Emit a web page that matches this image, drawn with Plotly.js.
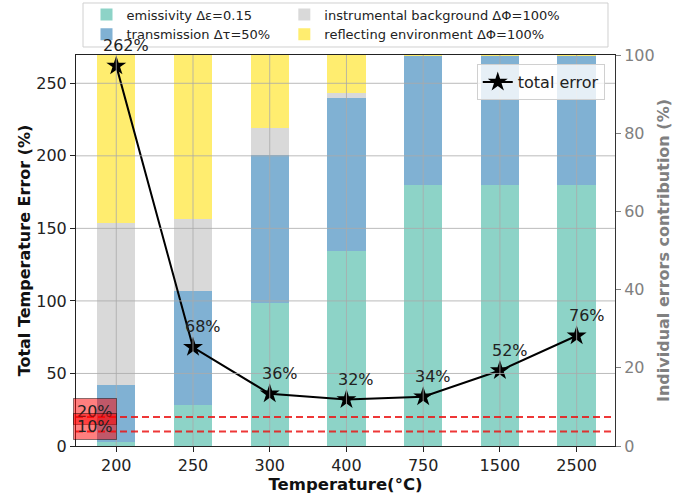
<!DOCTYPE html>
<html>
<head>
<meta charset="utf-8">
<script src="https://cdn.plot.ly/plotly-3.0.1.min.js"></script>
<style>html,body{margin:0;padding:0;background:#fff;}#chart{width:692px;height:495px;}</style>
</head>
<body>
<div id="chart"></div>
<script>
// ---- data ----
const categories = ['200', '250', '300', '400', '750', '1500', '2500'];
const emissivity   = [1.0, 10.5, 36.5, 49.9, 66.8, 66.8, 66.8];
const transmission = [14.6, 29.1, 37.9, 39.2, 32.9, 32.9, 32.9];
const background   = [41.4, 18.5, 6.9, 1.1, 0.0, 0.0, 0.0];
const reflecting   = [43.0, 41.9, 18.7, 9.8, 0.3, 0.3, 0.3];
const totalError   = [262, 68, 36, 32, 34, 52, 76];
const thresholds   = [20, 10];
const leftTicks    = [0, 50, 100, 150, 200, 250];
const rightTicks   = [0, 20, 40, 60, 80, 100];
const seriesNames  = ['emissivity Δε=0.15', 'transmission Δτ=50%', 'instrumental background ΔΦ=100%', 'reflecting environment ΔΦ=100%'];
const seriesColors = ['#8dd3c7', '#80b1d3', '#d9d9d9', '#ffed6f'];
const seriesLegend = ['legend', 'legend', 'legend3', 'legend3'];

const FONT = 'DejaVu Sans, Liberation Sans, sans-serif';
const stacks = [emissivity, transmission, background, reflecting];

const traces = stacks.map((vals, k) => ({
  type: 'bar', x: categories, y: vals, name: seriesNames[k],
  marker: {color: seriesColors[k], line: {width: 0}},
  width: 0.5, xaxis: 'x', yaxis: 'y', legend: seriesLegend[k],
  hoverinfo: 'skip'
}));

traces.push({
  type: 'scatter', mode: 'lines+markers', x: categories, y: totalError, name: 'total error',
  line: {color: '#000', width: 2}, marker: {symbol: 'star', size: 15, color: '#000'},
  xaxis: 'x', yaxis: 'y2', legend: 'legend2'
});

const shapes = [];
// grid drawn above bars (as in the reference)
categories.forEach((c, i) => shapes.push({type: 'line', layer: 'above', xref: 'x', yref: 'paper',
  x0: i, x1: i, y0: 0, y1: 1, line: {color: 'rgba(170,170,170,0.8)', width: 1}}));
leftTicks.slice(1).forEach(v => shapes.push({type: 'line', layer: 'above', xref: 'paper', yref: 'y2',
  x0: 0, x1: 1, y0: v, y1: v, line: {color: 'rgba(170,170,170,0.8)', width: 1}}));
// thresholds
thresholds.forEach(v => shapes.push({type: 'line', layer: 'above', xref: 'paper', yref: 'y2',
  x0: 0, x1: 1, y0: v, y1: v, line: {color: 'rgba(235,20,20,0.85)', width: 2, dash: '7px,4px'}}));
// legend frame
shapes.push({type: 'rect', layer: 'above', xref: 'paper', yref: 'paper',
  x0: 0.013, x1: 0.987, y0: 1.0205, y1: 1.133,
  line: {color: '#d0d0d0', width: 1}, fillcolor: 'rgba(255,255,255,0.9)'});

const annotations = [];
totalError.forEach((v, i) => annotations.push({
  xref: 'x', yref: 'y2', x: i, y: v, text: v + '%', showarrow: false,
  xanchor: 'center', yanchor: 'bottom', xshift: 10, yshift: 9,
  font: {family: FONT, size: 16, color: '#222'}
}));
thresholds.forEach(v => annotations.push({
  xref: 'paper', yref: 'y2', x: 0, y: v, text: v + '%', showarrow: false,
  xanchor: 'left', yanchor: 'middle', xshift: -3, yshift: 5,
  bgcolor: 'rgba(255,0,0,0.5)', bordercolor: 'rgba(0,0,0,0.45)', borderwidth: 1, borderpad: 3,
  font: {family: FONT, size: 16, color: '#222'}
}));

const legendFont = {family: FONT, size: 13, color: '#222'};

const layout = {
  width: 692, height: 495,
  margin: {l: 76, r: 77, t: 55, b: 49, autoexpand: false},
  paper_bgcolor: '#fff', plot_bgcolor: '#fff',
  font: {family: FONT, size: 16, color: '#222'},
  barmode: 'stack', bargap: 0.5,
  showlegend: true,
  xaxis: {
    type: 'category', range: [-0.525, 6.5], showgrid: false,
    showline: true, mirror: true, linecolor: '#222', linewidth: 1,
    ticks: 'outside', ticklen: 5, tickcolor: '#222',
    tickfont: {family: FONT, size: 16, color: '#222'},
    title: {text: 'Temperature(°C)', font: {family: FONT, size: 16.5, color: '#111', weight: 'bold'}, standoff: 2}
  },
  yaxis: {
    side: 'right', range: [0, 100], tickvals: rightTicks, showgrid: false, zeroline: false,
    showline: true, linecolor: '#333', linewidth: 1,
    ticks: 'outside', ticklen: 5, tickcolor: '#808080',
    tickfont: {family: FONT, size: 16, color: '#808080'},
    title: {text: 'Individual errors contribution (%)', font: {family: FONT, size: 16, color: '#808080', weight: 'bold'}, standoff: 4}
  },
  yaxis2: {
    overlaying: 'y', side: 'left', range: [0, 269.5], tickvals: leftTicks, showgrid: false, zeroline: false,
    showline: true, linecolor: '#222', linewidth: 1,
    ticks: 'outside', ticklen: 5, tickcolor: '#222',
    tickfont: {family: FONT, size: 16, color: '#222'},
    title: {text: 'Total Temperature Error (%)', font: {family: FONT, size: 16, color: '#111', weight: 'bold'}, standoff: 1}
  },
  legend: {
    x: 0.0195, xanchor: 'left', y: 1.142, yanchor: 'top', traceorder: 'normal',
    bgcolor: 'rgba(0,0,0,0)', borderwidth: 0, font: legendFont, tracegroupgap: 0
  },
  legend3: {
    x: 0.3865, xanchor: 'left', y: 1.142, yanchor: 'top', traceorder: 'normal',
    bgcolor: 'rgba(0,0,0,0)', borderwidth: 0, font: legendFont, tracegroupgap: 0
  },
  legend2: {
    x: 0.981, xanchor: 'right', y: 0.977, yanchor: 'top',
    bgcolor: 'rgba(255,255,255,0.8)', bordercolor: '#d0d0d0', borderwidth: 1,
    font: {family: FONT, size: 16, color: '#222'}
  },
  shapes: shapes,
  annotations: annotations
};

Plotly.newPlot('chart', traces, layout, {displayModeBar: false, staticPlot: true});
</script>
</body>
</html>
